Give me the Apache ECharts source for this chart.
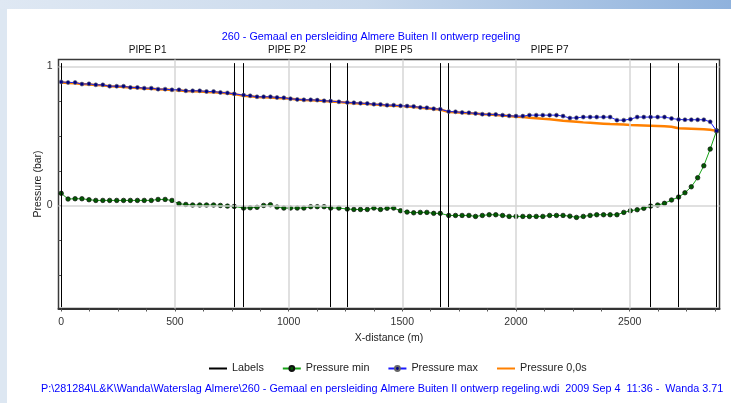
<!DOCTYPE html>
<html><head><meta charset="utf-8">
<script src="https://cdn.jsdelivr.net/npm/echarts@6/dist/echarts.min.js"></script>
<style>
html,body{margin:0;padding:0;}
#c{width:731px;height:403px;
background:
 linear-gradient(to right,#dfe8f3,#c9d9ec 50%,#8fb2dd) top left/100% 9px no-repeat,
 linear-gradient(#dde7f2,#dde7f2) top left/7px 100% no-repeat,
 #ffffff;}
</style></head>
<body><div id="c"></div>
<script>
// distances (m) of the calculation nodes
const xDist = [0,30,61,91,122,152,183,213,244,274,304,335,365,396,426,457,487,518,548,578,609,639,670,700,731,761,
 802,
 831,861,890,920,949,979,1008,1038,1067,1097,1126,1156,1185,
 1221,1258,
 1287,1316,1346,1375,1404,1433,1462,1492,1521,1550,1579,1608,1638,1667,
 1704,
 1734,1763,1793,1822,1852,1882,1911,1941,1970,2000,2030,2059,2089,2118,2148,2178,2207,2237,2266,2296,2326,2355,2385,2414,2444,2474,2503,2533,2562,2592,
 2623,2653,2684,2715,
 2743,2771,2799,2826,2854,2882];
const pMin = [0.088,0.047,0.049,0.049,0.042,0.037,0.037,0.037,0.037,0.037,0.037,0.037,0.037,0.037,0.044,0.044,0.037,0.013,0.008,0.004,0.004,0.004,0.004,0.001,-0.004,-0.006,
 -0.018,
 -0.016,-0.013,0.001,0.006,-0.011,-0.018,-0.018,-0.018,-0.018,-0.008,-0.008,-0.008,-0.018,
 -0.018,-0.025,
 -0.028,-0.028,-0.028,-0.018,-0.028,-0.020,-0.018,-0.037,-0.047,-0.052,-0.049,-0.049,-0.056,-0.056,
 -0.071,
 -0.071,-0.071,-0.071,-0.078,-0.071,-0.066,-0.066,-0.071,-0.078,-0.078,-0.078,-0.078,-0.078,-0.078,-0.071,-0.071,-0.071,-0.076,-0.085,-0.078,-0.071,-0.066,-0.066,-0.066,-0.066,-0.049,-0.037,-0.030,-0.020,-0.004,
 0.004,0.016,0.040,0.061,
 0.092,0.135,0.200,0.286,0.406,0.537];
const pMax = [0.889,0.885,0.885,0.873,0.875,0.868,0.868,0.858,0.858,0.858,0.849,0.849,0.844,0.844,0.837,0.837,0.832,0.832,0.825,0.825,0.825,0.820,0.820,0.813,0.810,0.803,
 0.794,
 0.789,0.782,0.782,0.782,0.777,0.775,0.768,0.763,0.760,0.760,0.758,0.753,0.751,
 0.746,0.741,
 0.739,0.736,0.734,0.729,0.727,0.722,0.722,0.717,0.715,0.713,0.705,0.703,0.696,0.693,
 0.676,
 0.674,0.669,0.667,0.662,0.657,0.655,0.655,0.650,0.645,0.643,0.643,0.650,0.650,0.650,0.650,0.650,0.643,0.629,0.631,0.636,0.636,0.636,0.636,0.636,0.614,0.614,0.621,0.636,0.636,0.636,
 0.636,0.636,0.626,0.619,
 0.617,0.617,0.617,0.617,0.602,0.537];
const p0 = [0.884,0.881,0.879,0.873,0.871,0.866,0.864,0.858,0.856,0.853,0.848,0.846,0.842,0.840,0.836,0.834,0.830,0.828,0.824,0.822,0.820,0.817,0.815,0.811,0.807,0.801,
 0.790,
 0.786,0.781,0.779,0.777,0.774,0.771,0.767,0.762,0.759,0.757,0.755,0.751,0.748,
 0.744,0.739,
 0.736,0.733,0.731,0.727,0.724,0.720,0.718,0.715,0.712,0.709,0.704,0.700,0.695,0.690,
 0.673,
 0.670,0.667,0.664,0.661,0.657,0.654,0.651,0.647,0.643,0.639,0.636,0.632,0.628,0.624,0.620,0.615,0.610,0.606,0.602,0.598,0.595,0.592,0.589,0.586,0.584,0.582,0.580,0.578,0.576,0.574,
 0.572,0.570,0.567,0.556,
 0.554,0.552,0.550,0.548,0.545,0.537];
// pipe boundaries ("Labels") and pipe names
const labelX = [0,761,802,1185,1258,1667,1704,2592,2715,2882];
const pipeNames = ['PIPE P1','PIPE P2','PIPE P5','PIPE P7'];
const pipeMidX = [380,993,1462,2148];
// axis ticks / labels
const xTicks = [0,125,250,375,500,625,750,875,1000,1125,1250,1375,1500,1625,1750,1875,2000,2125,2250,2375,2500,2625,2750,2875];
const xLabels = [0,500,1000,1500,2000,2500];
const xGrid = [500,1000,1500,2000,2500];
const yTicks = [-0.5,-0.25,0,0.25,0.5,0.75,1];
const yLabels = [0,1];
const yGrid = [0,1];
const X_MIN=-12, X_MAX=2895, Y_MIN=-0.74, Y_MAX=1.05;
const LBL_BOT=-0.73, LBL_TOP=1.024;

const FONT = 'Liberation Sans, Arial, sans-serif';
const chart = echarts.init(document.getElementById('c'), null, {renderer:'canvas'});
const pair = arr => xDist.map((x,i)=>[x,arr[i]]);
const gridLines = [
  ...xGrid.map(v=>({xAxis:v})),
  ...yGrid.map(v=>({yAxis:v}))
];
chart.setOption({
  animation:false,
  backgroundColor:'transparent',
  textStyle:{fontFamily:FONT},
  title:[
    {text:'260 - Gemaal en persleiding Almere Buiten II ontwerp regeling', left:366, top:27, textAlign:'center',
     textStyle:{color:'#0000ff', fontSize:10.8, fontWeight:'normal', fontFamily:FONT}},
    {text:'P:\\281284\\L&K\\Wanda\\Waterslag Almere\\260 - Gemaal en persleiding Almere Buiten II ontwerp regeling.wdi  2009 Sep 4  11:36 -  Wanda 3.71',
     left:36, top:379, textStyle:{color:'#0000ff', fontSize:10.8, fontWeight:'normal', fontFamily:FONT}}
  ],
  legend:{
    data:[{name:'Labels', itemStyle:{opacity:0}},'Pressure min','Pressure max',{name:'Pressure 0,0s', itemStyle:{opacity:0}}],
    top:358, left:203, itemWidth:18, itemHeight:6, itemGap:18,
    textStyle:{fontSize:10.8, color:'#222', fontFamily:FONT}
  },
  grid:{left:58.5, right:11.5, top:59.5, bottom:94.5, show:true, borderColor:'#3a3a3a', borderWidth:1.5, backgroundColor:'transparent'},
  xAxis:[{
    type:'value', min:X_MIN, max:X_MAX, position:'bottom',
    name:'X-distance (m)', nameLocation:'middle', nameGap:24,
    nameTextStyle:{fontSize:10.5, color:'#222', fontFamily:FONT},
    axisLine:{show:true, onZero:false, lineStyle:{color:'#333', width:2}},
    axisTick:{show:true, customValues:xTicks, length:3, lineStyle:{color:'#555'}},
    axisLabel:{customValues:xLabels, margin:8, fontSize:10.5, color:'#333', fontFamily:FONT, formatter:v=>String(v)},
    splitLine:{show:false}
  },{
    type:'value', min:X_MIN, max:X_MAX, position:'top',
    axisLine:{show:false}, axisTick:{show:false}, splitLine:{show:false},
    axisLabel:{customValues:pipeMidX, margin:4, fontSize:10, color:'#111', fontFamily:FONT,
      formatter:v=>pipeNames[pipeMidX.indexOf(v)] || ''}
  }],
  yAxis:{
    type:'value', min:Y_MIN, max:Y_MAX,
    name:'Pressure (bar)', nameLocation:'middle', nameGap:15, nameRotate:90, nameMoveOverlap:false,
    nameTextStyle:{fontSize:10.5, color:'#222', fontFamily:FONT},
    axisLine:{show:false},
    axisTick:{show:true, customValues:yTicks, length:3, lineStyle:{color:'#555'}},
    axisLabel:{customValues:yLabels, margin:6, fontSize:10.5, color:'#333', fontFamily:FONT, formatter:v=>String(v)},
    splitLine:{show:false}
  },
  series:[
    {type:'line', name:'_grid', data:[], silent:true, z:1,
     markLine:{silent:true, symbol:'none', label:{show:false}, animation:false,
       lineStyle:{color:'#d6d6d6', width:1.5, type:'solid'}, data:gridLines}},
    {type:'line', name:'Labels', data:[], z:2, symbol:'none',
     itemStyle:{color:'#000'}, lineStyle:{color:'#000', width:1},
     markLine:{silent:true, symbol:'none', label:{show:false}, animation:false,
       lineStyle:{color:'#000', width:1, type:'solid'},
       data:labelX.map(x=>[{coord:[x,LBL_BOT]},{coord:[x,LBL_TOP]}])}},
    {type:'line', name:'Pressure min', data:pair(pMin), z:3, symbol:'circle', symbolSize:4.5,
     lineStyle:{color:'#17a317', width:1}, itemStyle:{color:'#005a00', borderColor:'#111', borderWidth:0.7}},
    {type:'line', name:'Pressure 0,0s', data:pair(p0), z:4, symbol:'none',
     lineStyle:{color:'#ff8000', width:2.5}, itemStyle:{color:'#ff8000'}},
    {type:'line', name:'Pressure max', data:pair(pMax), z:5, symbol:'circle', symbolSize:4,
     lineStyle:{color:'#1a1aff', width:1}, itemStyle:{color:'#000080', borderColor:'#666', borderWidth:0.6}}
  ]
});
</script></body></html>
